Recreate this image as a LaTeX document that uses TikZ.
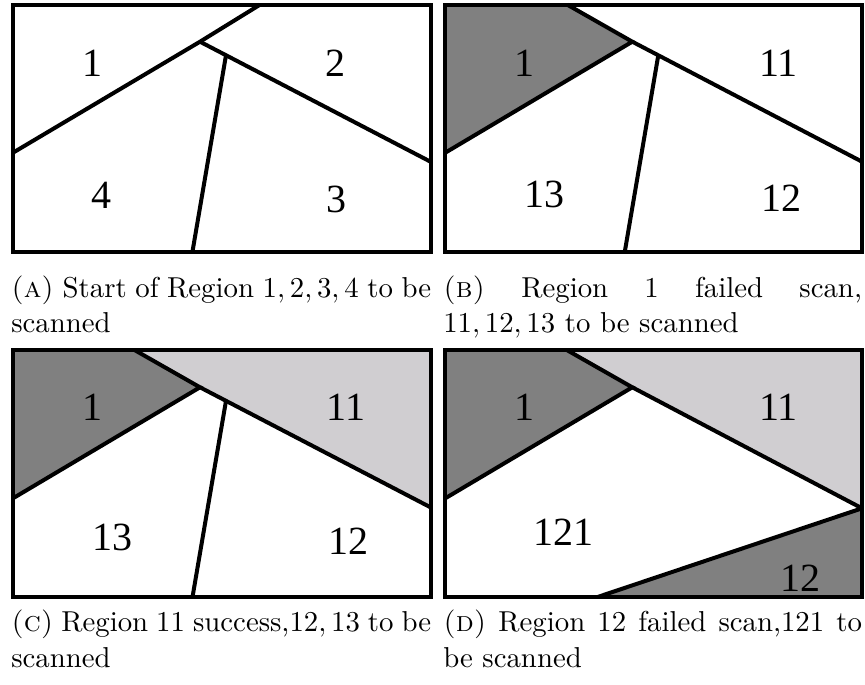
\documentclass[tikz,border=0pt]{standalone}
\usepackage{fontspec}
\newfontfamily\labfont{Liberation Serif}
\definecolor{darkreg}{RGB}{128,128,128}
\definecolor{lightreg}{RGB}{208,206,209}
\newcommand{\capline}[1]{\scalebox{2.16}{\fontsize{10pt}{12pt}\selectfont #1}}
\tikzset{
  seg/.style={line width=3pt},
  frame/.style={line width=3pt, line join=miter},
  lab/.style={inner sep=0pt, anchor=center, font=\labfont\fontsize{30pt}{36pt}\selectfont},
  captext/.style={inner sep=0pt, anchor=base west},
}
\begin{document}
\begin{tikzpicture}[x=0.75pt,y=-0.75pt]
\useasboundingbox (0,0) rectangle (865,685);
% ---------- Panel A ----------
\begin{scope}[shift={(13,4.7)}]
\coordinate (aT) at (247,0); \coordinate (aJ) at (187,37); \coordinate (aL) at (0,148);
\coordinate (aK) at (213,50.5); \coordinate (aR) at (417.5,157); \coordinate (aB) at (179.5,246.8);
\coordinate (aNW) at (0,0); \coordinate (aSE) at (417.5,246.8);
\draw[seg] (aT) -- (aJ) -- (aL);
\draw[seg] (aJ) -- (aR);
\draw[seg] (aK) -- (aB);
\draw[frame] (aNW) rectangle (aSE);
\end{scope}
\node[lab] (a1) at (92,63.3) {1};
\node[lab] (a2) at (335.7,63.3) {2};
\node[lab] (a4) at (101.7,195.3) {4};
\node[lab] (a3) at (336.7,199) {3};
% ---------- Panel B ----------
\begin{scope}[shift={(445.3,4.7)}]
\coordinate (bT) at (122,0); \coordinate (bJ) at (187,37); \coordinate (bL) at (0,148);
\coordinate (bK) at (213,50.5); \coordinate (bR) at (416.7,157); \coordinate (bB) at (179.5,247);
\coordinate (bNW) at (0,0); \coordinate (bSE) at (416.7,247);
\fill[darkreg] (bNW) -- (bT) -- (bJ) -- (bL) -- cycle;
\draw[seg] (bT) -- (bJ) -- (bL);
\draw[seg] (bJ) -- (bR);
\draw[seg] (bK) -- (bB);
\draw[frame] (bNW) rectangle (bSE);
\end{scope}
\node[lab] (b1) at (524,63.3) {1};
\node[lab] (b11) at (778.7,63.3) {11};
\node[lab] (b13) at (544.5,194) {13};
\node[lab] (b12) at (781.7,198.3) {12};
% ---------- Panel C ----------
\begin{scope}[shift={(13,350.3)}]
\coordinate (cT) at (122,0); \coordinate (cJ) at (187,37); \coordinate (cL) at (0,148);
\coordinate (cK) at (213,50.5); \coordinate (cR) at (417.5,157); \coordinate (cB) at (179.5,246.8);
\coordinate (cNW) at (0,0); \coordinate (cNE) at (417.5,0); \coordinate (cSE) at (417.5,246.8);
\fill[darkreg] (cNW) -- (cT) -- (cJ) -- (cL) -- cycle;
\fill[lightreg] (cT) -- (cNE) -- (cR) -- (cJ) -- cycle;
\draw[seg] (cT) -- (cJ) -- (cL);
\draw[seg] (cJ) -- (cR);
\draw[seg] (cK) -- (cB);
\draw[frame] (cNW) rectangle (cSE);
\end{scope}
\node[lab] (c1) at (92,407.5) {1};
\node[lab] (c11) at (345.8,407.5) {11};
\node[lab] (c13) at (112.5,537.5) {13};
\node[lab] (c12) at (348.3,541.7) {12};
% ---------- Panel D ----------
\begin{scope}[shift={(445.3,350.3)}]
\coordinate (dT) at (122,0); \coordinate (dJ) at (187,37); \coordinate (dL) at (0,148);
\coordinate (dR) at (416.7,158); \coordinate (dB) at (152,246.8);
\coordinate (dNW) at (0,0); \coordinate (dNE) at (416.7,0); \coordinate (dSE) at (416.7,246.8);
\fill[darkreg] (dNW) -- (dT) -- (dJ) -- (dL) -- cycle;
\fill[lightreg] (dT) -- (dNE) -- (dR) -- (dJ) -- cycle;
\fill[darkreg] (dR) -- (dSE) -- (dB) -- cycle;
\draw[seg] (dT) -- (dJ) -- (dL);
\draw[seg] (dJ) -- (dR);
\draw[seg] (dR) -- (dB);
\draw[frame] (dNW) rectangle (dSE);
\end{scope}
\node[lab] (d1) at (524,407.5) {1};
\node[lab] (d11) at (778.7,407.5) {11};
\node[lab] (d121) at (563.5,532.5) {121};
\node[lab] (d12) at (800,577.8) {12};
% ---------- Captions ----------
\node[captext] (capa1) at (11,297) {\capline{\makebox[145.8pt][s]{\textsc{(a)} Start of Region $1, 2, 3, 4$ to be}}};
\node[captext] (capa2) at (11,332) {\capline{scanned}};
\node[captext] (capb1) at (443,297) {\capline{\makebox[145.4pt][s]{\textsc{(b)} Region $1$ failed scan,}}};
\node[captext] (capb2) at (443,332) {\capline{$11, 12, 13$ to be scanned}};
\node[captext] (capc1) at (11,631) {\capline{\makebox[145.8pt][s]{\textsc{(c)} Region 11 success,$12, 13$ to be}}};
\node[captext] (capc2) at (11,667) {\capline{scanned}};
\node[captext] (capd1) at (443,631) {\capline{\makebox[145.4pt][s]{\textsc{(d)} Region 12 failed scan,121 to}}};
\node[captext] (capd2) at (443,667) {\capline{be scanned}};
\end{tikzpicture}
\end{document}
